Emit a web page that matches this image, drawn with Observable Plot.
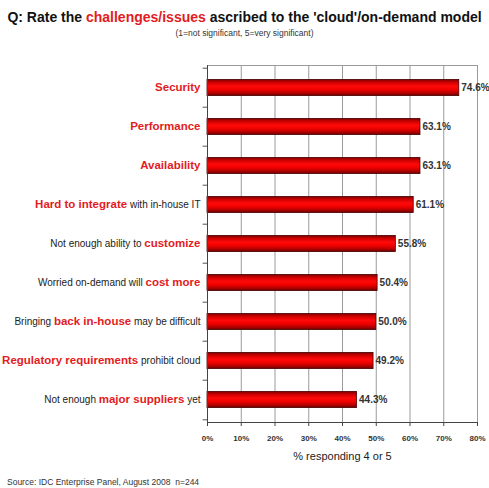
<!DOCTYPE html>
<html><head><meta charset="utf-8">
<script src="https://cdn.jsdelivr.net/npm/d3@7"></script>
<script src="https://cdn.jsdelivr.net/npm/@observablehq/plot@0.6"></script>
<style>
body{margin:0;background:#fff;font-family:"Liberation Sans",Arial,sans-serif;}
#wrap{width:489px;height:488px;position:relative;overflow:hidden;background:#fff}
#title{position:absolute;top:8px;left:0;width:489px;text-align:center;font-weight:bold;font-size:14px;color:#111;white-space:nowrap;line-height:18px}
#title .hl{color:#e31b23}
#sub{position:absolute;top:28px;left:0;width:489px;text-align:center;font-size:8.5px;color:#333;line-height:10px}
#chart{position:absolute;top:42px;left:0}
#src{position:absolute;top:477px;left:7px;font-size:8.5px;color:#333;line-height:10px;white-space:nowrap}
</style>
</head><body>
<div id="wrap">
<div id="title">Q: Rate the <span class="hl">challenges/issues</span> ascribed to the 'cloud'/on-demand model</div>
<div id="sub">(1=not significant, 5=very significant)</div>
<div id="chart"></div>
<div id="src">Source: IDC Enterprise Panel, August 2008&nbsp;&nbsp;n=244</div>
</div>
<script>
const categories = ["Security","Performance","Availability","Hard to integrate with in-house IT","Not enough ability to customize","Worried on-demand will cost more","Bringing back in-house may be difficult","Regulatory requirements prohibit cloud","Not enough major suppliers yet"];
const labelBefore = ["","","","","Not enough ability to ","Worried on-demand will ","Bringing ","","Not enough "];
const labelHighlight = ["Security","Performance","Availability","Hard to integrate","customize","cost more","back in-house","Regulatory requirements","major suppliers"];
const labelAfter = ["","",""," with in-house IT","",""," may be difficult"," prohibit cloud"," yet"];
const values = [74.6,63.1,63.1,61.1,55.8,50.4,50.0,49.2,44.3];
const valueLabels = ["74.6%","63.1%","63.1%","61.1%","55.8%","50.4%","50.0%","49.2%","44.3%"];
const xTicks = [0,10,20,30,40,50,60,70,80];
const axisTitle = ["% responding 4 or 5"];

const rows = categories.map((c,i)=>({cat:c, value:values[i], vlabel:valueLabels[i], i}));

function richLabel(index, scales, vals, dims, ctx, next){
  const g = next(index, scales, vals, dims, ctx);
  d3.select(g).selectAll("text").each(function(_, j){
    const i = index[j];
    const t = d3.select(this);
    t.text(null);
    const parts = [[labelBefore[i],false],[labelHighlight[i],true],[labelAfter[i],false]];
    for (const [s,hl] of parts){
      if(!s) continue;
      t.append("tspan").text(s)
        .attr("fill", hl ? "#e31b23" : "#222")
        .attr("font-weight", hl ? "bold" : "normal")
        .attr("font-size", hl ? "11.5px" : "10px");
    }
  });
  return g;
}

const chart = Plot.plot({
  width:489, height:428, marginLeft:207, marginRight:12, marginTop:23, marginBottom:48,
  style:{fontFamily:"'Liberation Sans', Arial, sans-serif", background:"white", overflow:"visible"},
  x:{domain:[0,80], label:null},
  y:{domain:categories, padding:0, label:null, axis:null},
  marks:[
    Plot.ruleX(xTicks, {stroke:"#9a9a9a", strokeWidth:1, strokeOpacity:1}),
    Plot.frame({stroke:"#9a9a9a"}),
    Plot.ruleY(categories, {y:d=>d, x1:-1.3, x2:0, dy:-19.8, stroke:"#555"}),
    Plot.ruleY(categories.slice(-1), {y:d=>d, x1:-1.3, x2:0, dy:19.8, stroke:"#555"}),
    Plot.barX(rows, {x:"value", y:"cat", fill:"url(#barGrad)", stroke:"#4a0000", strokeWidth:0.8, insetTop:11.4, insetBottom:11.4}),
    Plot.text(rows, {x:"value", y:"cat", text:"vlabel", textAnchor:"start", dx:2, fontSize:10, fontWeight:"bold", fill:"#333"}),
    Plot.frame({anchor:"left", stroke:"#444"}),
    Plot.frame({anchor:"bottom", stroke:"#444"}),
    Plot.axisX(xTicks, {tickSize:4, tickPadding:9, fontSize:8, fontWeight:"bold", fill:"#333", stroke:"#444", tickFormat:d=>d+"%", label:null}),
    Plot.text(rows, {y:"cat", frameAnchor:"left", dx:-7, textAnchor:"end", text:"cat", render:richLabel}),
    Plot.text(axisTitle, {frameAnchor:"bottom", dy:37, fontSize:11, fill:"#222", text:d=>d})
  ]
});

const svg = d3.select(chart);
const defs = svg.insert("defs", ":first-child");
const lg = defs.append("linearGradient").attr("id","barGrad").attr("x1",0).attr("y1",0).attr("x2",0).attr("y2",1);
[[0,"#7a0000"],[0.18,"#cc0000"],[0.42,"#ff0a0a"],[0.62,"#f20000"],[0.85,"#b00000"],[1,"#650000"]].forEach(([o,c])=>lg.append("stop").attr("offset",o).attr("stop-color",c));

document.getElementById("chart").appendChild(chart);
</script>
</body></html>
